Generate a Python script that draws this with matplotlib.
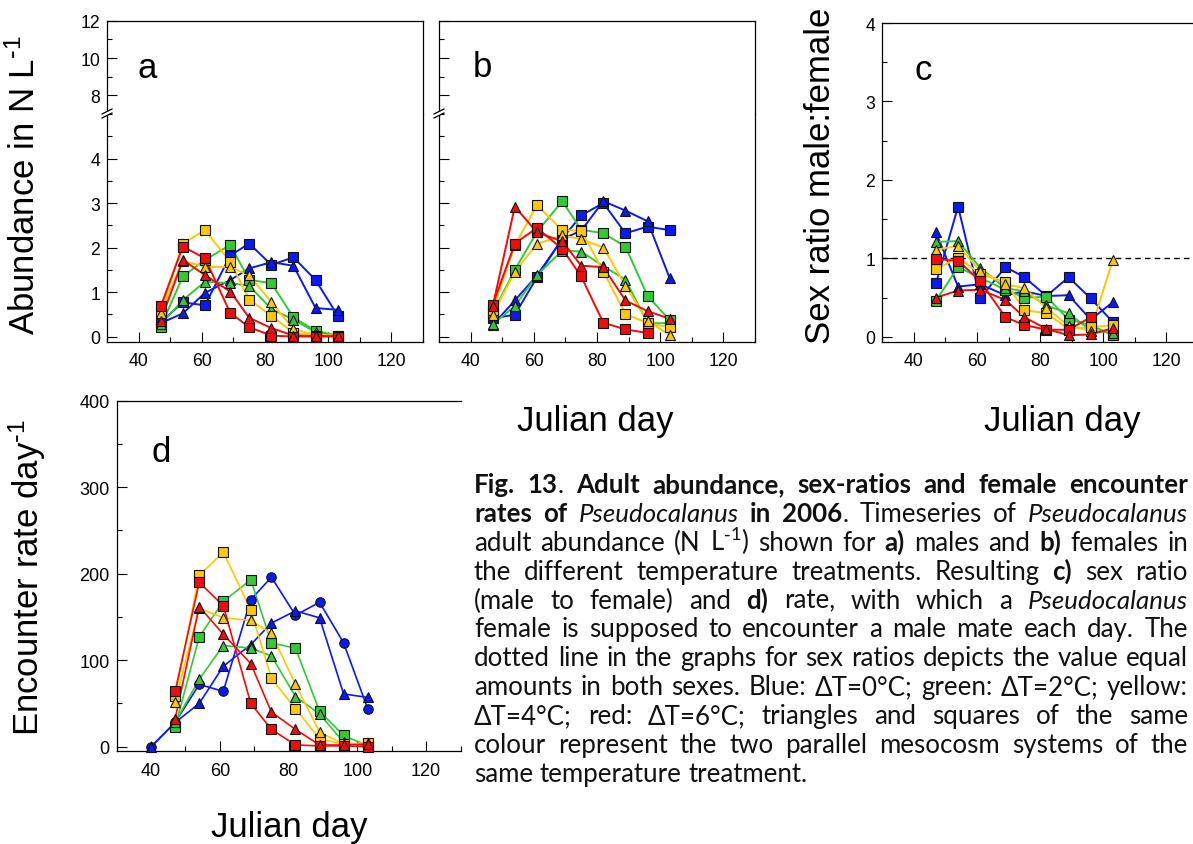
import matplotlib
matplotlib.use('Agg')
import matplotlib.pyplot as plt
import numpy as np
from matplotlib.ticker import MultipleLocator
from matplotlib.lines import Line2D
from matplotlib.patches import Polygon

W, H = 1193, 845
plt.rcParams['font.family'] = ['Liberation Sans', 'DejaVu Sans']
plt.rcParams['mathtext.default'] = 'regular'

# sampling days
days = [47, 54, 61, 69, 75, 82, 89, 96, 103]
days_d = [40, 47, 54, 61, 69, 75, 82, 89, 96, 103]

# a) males, N L-1
a_blue_sq = [0.32, 0.77, 0.70, 1.82, 2.09, 1.61, 1.78, 1.27, 0.47]
a_blue_tri = [0.30, 0.52, 0.98, 1.27, 1.53, 1.67, 1.59, 0.64, 0.60]
a_green_sq = [0.22, 1.35, 1.72, 2.06, 1.27, 1.20, 0.43, 0.13, 0.02]
a_green_tri = [0.27, 0.82, 1.23, 1.20, 1.14, 0.62, 0.38, 0.10, 0.01]
a_yellow_sq = [0.56, 2.09, 2.39, 1.68, 0.83, 0.47, 0.08, 0.02, 0.02]
a_yellow_tri = [0.53, 1.70, 1.57, 1.56, 1.38, 0.77, 0.17, 0.03, 0.02]
a_red_sq = [0.68, 2.02, 1.76, 0.53, 0.21, 0.02, 0.00, 0.00, 0.00]
a_red_tri = [0.35, 1.72, 1.38, 1.01, 0.42, 0.19, 0.02, 0.01, 0.01]

# b) females, N L-1
b_blue_sq = [0.41, 0.49, 1.33, 2.20, 2.72, 3.00, 2.32, 2.47, 2.39]
b_blue_tri = [0.26, 0.81, 1.37, 2.19, 2.38, 3.04, 2.83, 2.59, 1.31]
b_green_sq = [0.53, 1.50, 2.35, 3.04, 2.40, 2.32, 2.02, 0.91, 0.37]
b_green_tri = [0.28, 0.68, 1.38, 1.93, 1.91, 1.58, 1.28, 0.30, 0.30]
b_yellow_sq = [0.60, 2.05, 2.95, 2.39, 2.38, 1.46, 0.51, 0.30, 0.21]
b_yellow_tri = [0.49, 1.46, 2.08, 2.27, 2.19, 2.00, 1.14, 0.34, 0.04]
b_red_sq = [0.71, 2.09, 2.44, 1.97, 1.35, 0.31, 0.16, 0.08, np.nan]
b_red_tri = [0.68, 2.92, 2.34, 2.14, 1.59, 1.56, 0.81, 0.57, 0.40]

# c) sex ratio male:female
c_blue_sq = [0.68, 1.66, 0.49, 0.89, 0.76, 0.52, 0.76, 0.49, 0.19]
c_blue_tri = [1.33, 0.64, 0.67, 0.53, 0.58, 0.52, 0.53, 0.22, 0.44]
c_green_sq = [0.46, 0.89, 0.75, 0.60, 0.50, 0.51, 0.22, 0.15, 0.02]
c_green_tri = [1.21, 1.22, 0.88, 0.62, 0.58, 0.40, 0.30, 0.08, 0.05]
c_yellow_sq = [0.86, 1.01, 0.80, 0.70, 0.34, 0.30, 0.10, 0.12, 0.15]
c_yellow_tri = [1.11, 1.16, 0.84, 0.67, 0.62, 0.37, 0.14, 0.08, 0.98]
c_red_sq = [0.99, 0.97, 0.71, 0.25, 0.15, 0.09, 0.09, 0.25, np.nan]
c_red_tri = [0.50, 0.59, 0.60, 0.47, 0.25, 0.10, 0.02, 0.03, 0.11]

# d) encounter rate day-1 (blue starts at day 40)
d_blue_circ = [0, 28, 72, 64, 170, 196, 152, 167, 120, 44]
d_blue_tri = [0, 28, 50, 93, 118, 143, 157, 149, 61, 57]
d_green_sq = [23, 127, 168, 193, 120, 114, 41, 13, 1]
d_green_tri = [28, 78, 117, 114, 105, 58, 38, 5, 1]
d_yellow_sq = [59, 198, 225, 158, 79, 44, 9, 3, 4]
d_yellow_tri = [52, 160, 149, 146, 131, 72, 17, 3, 4]
d_red_sq = [64, 190, 163, 50, 20, 2, 1, 1, 0]
d_red_tri = [32, 162, 130, 96, 40, 20, 2, 2, 3]

blue = '#0a1af5'
green = '#35c835'
yellow = '#ffc800'
red = '#f50a0a'

fig = plt.figure(figsize=(W / 100, H / 100), dpi=100)


def box(l, t, r, b):
    return [l / W, 1 - b / H, (r - l) / W, (b - t) / H]


def style(ax, fs=12.7, xlab=True, ylab=True, xpad=7, ypad=5):
    ax.tick_params(which='both', direction='in', top=False, right=False, width=0.8)
    ax.tick_params(which='major', length=7, labelsize=fs)
    ax.tick_params(which='minor', length=3.6)
    ax.tick_params(axis='x', pad=xpad, labelbottom=xlab)
    ax.tick_params(axis='y', pad=ypad, labelleft=ylab)
    for s in ax.spines.values():
        s.set_linewidth(0.9)


def draw(ax, x, series, lw=1.4):
    for y, c, m in series:
        ax.plot(x, y, color=c, lw=lw, zorder=2, clip_on=False)
    for y, c, m in series:
        ax.plot(x, y, ls='none', marker=m, ms=6.8, mfc=c, mec='#111111', mew=0.8,
                zorder=3, clip_on=False)


def series(bs, bt, gs, gt, ys, yt, rs, rt, bm='s'):
    return [(bs, blue, bm), (bt, blue, '^'), (gs, green, 's'), (gt, green, '^'),
            (ys, yellow, 's'), (yt, yellow, '^'), (rs, red, 's'), (rt, red, '^')]


def break_mark(x, y):
    fig.add_artist(Polygon([((x - 5) / W, 1 - (y + 2) / H), ((x + 5) / W, 1 - (y - 3) / H),
                            ((x + 5) / W, 1 - (y + 1) / H), ((x - 5) / W, 1 - (y + 6) / H)],
                           closed=True, facecolor='white', edgecolor='none', zorder=5))
    for dy in (0, 4):
        fig.add_artist(Line2D([(x - 5) / W, (x + 5) / W], [1 - (y + 2 + dy) / H, 1 - (y - 3 + dy) / H],
                              color='black', lw=0.9, zorder=6))


# panels a and b: broken y-axis
for left, right, data, lab in [(107, 423, [a_blue_sq, a_blue_tri, a_green_sq, a_green_tri,
                                            a_yellow_sq, a_yellow_tri, a_red_sq, a_red_tri], True),
                               (439, 755, [b_blue_sq, b_blue_tri, b_green_sq, b_green_tri,
                                           b_yellow_sq, b_yellow_tri, b_red_sq, b_red_tri], False)]:
    up = fig.add_axes(box(left, 21.7, right, 115))
    lo = fig.add_axes(box(left, 115, right, 343.3))
    up.set_ylim(7, 12)
    lo.set_ylim(-0.13, 5)
    for ax in (up, lo):
        ax.set_xlim(30, 130)
        ax.xaxis.set_major_locator(MultipleLocator(20))
        ax.xaxis.set_minor_locator(MultipleLocator(10))
    up.yaxis.set_major_locator(MultipleLocator(2))
    up.yaxis.set_minor_locator(MultipleLocator(1))
    lo.yaxis.set_major_locator(MultipleLocator(1))
    lo.yaxis.set_minor_locator(MultipleLocator(0.5))
    lo.set_yticks([0, 1, 2, 3, 4])
    up.set_yticks([8, 10, 12])
    style(up, xlab=False, ylab=lab)
    style(lo, ylab=lab)
    up.tick_params(axis='x', which='both', bottom=False)
    up.spines['bottom'].set_visible(False)
    lo.spines['top'].set_visible(False)
    draw(lo, days, series(*data))
    break_mark(left, 113)

# panel c
axc = fig.add_axes(box(882.3, 24, 1198, 343.3))
axc.set_xlim(30, 130)
axc.set_ylim(-0.07, 4)
axc.xaxis.set_major_locator(MultipleLocator(20))
axc.xaxis.set_minor_locator(MultipleLocator(10))
axc.yaxis.set_major_locator(MultipleLocator(1))
axc.yaxis.set_minor_locator(MultipleLocator(0.5))
style(axc)
axc.axhline(1, color='black', lw=1, ls=(0, (4, 3)), zorder=1)
draw(axc, days, series(c_blue_sq, c_blue_tri, c_green_sq, c_green_tri,
                       c_yellow_sq, c_yellow_tri, c_red_sq, c_red_tri))

# panel d
axd = fig.add_axes(box(116.7, 401.7, 460.5, 752.3))
axd.set_xlim(30, 130)
axd.set_ylim(-5.3, 400)
axd.xaxis.set_major_locator(MultipleLocator(20))
axd.xaxis.set_minor_locator(MultipleLocator(10))
axd.yaxis.set_major_locator(MultipleLocator(100))
axd.yaxis.set_minor_locator(MultipleLocator(50))
style(axd, fs=13, xpad=8, ypad=5)
axd.spines['right'].set_visible(False)
draw(axd, days_d, [(d_blue_circ, blue, 'o'), (d_blue_tri, blue, '^')], lw=1.2)
draw(axd, days, series(d_green_sq, d_green_tri, d_green_sq, d_green_tri,
                       d_yellow_sq, d_yellow_tri, d_red_sq, d_red_tri)[2:], lw=1.2)

# axis titles and panel letters
def ftext(x, y, s, **kw):
    return fig.text(x / W, 1 - y / H, s, **kw)

sup = r'$^{\mathregular{\text{-}1}}$'
ftext(25, 185, 'Abundance in N L' + sup, fontsize=25, rotation=90, ha='center', va='center')
ftext(820, 176, 'Sex ratio male:female', fontsize=25, rotation=90, ha='center', va='center')
ftext(27, 577, 'Encounter rate day' + sup, fontsize=25, rotation=90, ha='center', va='center')
ftext(595, 422, 'Julian day', fontsize=25, ha='center', va='center')
ftext(1062, 422, 'Julian day', fontsize=25, ha='center', va='center')
ftext(289, 828, 'Julian day', fontsize=25, ha='center', va='center')
for x, y, s in [(137.5, 78.3, 'a'), (473, 77.3, 'b'), (914, 80, 'c'), (151.5, 461.7, 'd')]:
    ftext(x, y, s, fontsize=25, ha='left', va='baseline')

# caption, justified word by word (# = bold, * = italic)
cap_lines = [
    "#Fig. 13#. #Adult abundance, sex-ratios and female encounter#",
    "#rates of# *Pseudocalanus* #in 2006#. Timeseries of *Pseudocalanus*",
    "adult abundance (N L" + sup + ") shown for #a)# males and #b)# females in",
    "the different temperature treatments. Resulting #c)# sex ratio",
    "(male to female) and #d)# rate, with which a *Pseudocalanus*",
    "female is supposed to encounter a male mate each day. The",
    "dotted line in the graphs for sex ratios depicts the value equal",
    "amounts in both sexes. Blue: \u0394T=0\u00b0C; green: \u0394T=2\u00b0C; yellow:",
    "\u0394T=4\u00b0C; red: \u0394T=6\u00b0C; triangles and squares of the same",
    "colour represent the two parallel mesocosm systems of the",
    "same temperature treatment.",
]
cap_font = ['Lato', 'DejaVu Sans']
cap_fs = 18.6
cap_x0, cap_x1 = 474, 1188
cap_y0, cap_dy = 493, 28.9


def parse(line):
    words, cur, piece = [], [], ''
    bold = ital = math = False
    for ch in line:
        if ch in '#*' and not math:
            if piece:
                cur.append((piece, bold, ital))
                piece = ''
            if ch == '#':
                bold = not bold
            else:
                ital = not ital
        elif ch == ' ' and not math:
            if piece:
                cur.append((piece, bold, ital))
                piece = ''
            if cur:
                words.append(cur)
                cur = []
        else:
            if ch == '$':
                math = not math
            piece += ch
    if piece:
        cur.append((piece, bold, ital))
    if cur:
        words.append(cur)
    return words


renderer = fig.canvas.get_renderer()
for i, line in enumerate(cap_lines):
    y = cap_y0 + i * cap_dy
    words = []
    for w in parse(line):
        parts = []
        for s, b, it in w:
            t = ftext(0, y, s, fontsize=cap_fs, family=cap_font, color='#111111',
                      weight='bold' if b else 'normal', style='italic' if it else 'normal',
                      ha='left', va='baseline')
            parts.append((t, t.get_window_extent(renderer).width))
        words.append(parts)
    widths = [sum(p[1] for p in w) for w in words]
    if i < len(cap_lines) - 1:
        gap = (cap_x1 - cap_x0 - sum(widths)) / (len(words) - 1)
    else:
        gap = cap_fs * 0.26 * 100 / 72
    x = cap_x0
    for w, wd in zip(words, widths):
        xx = x
        for t, pw in w:
            t.set_position((xx / W, 1 - y / H))
            xx += pw
        x += wd + gap

fig.savefig('out.png', dpi=100)
